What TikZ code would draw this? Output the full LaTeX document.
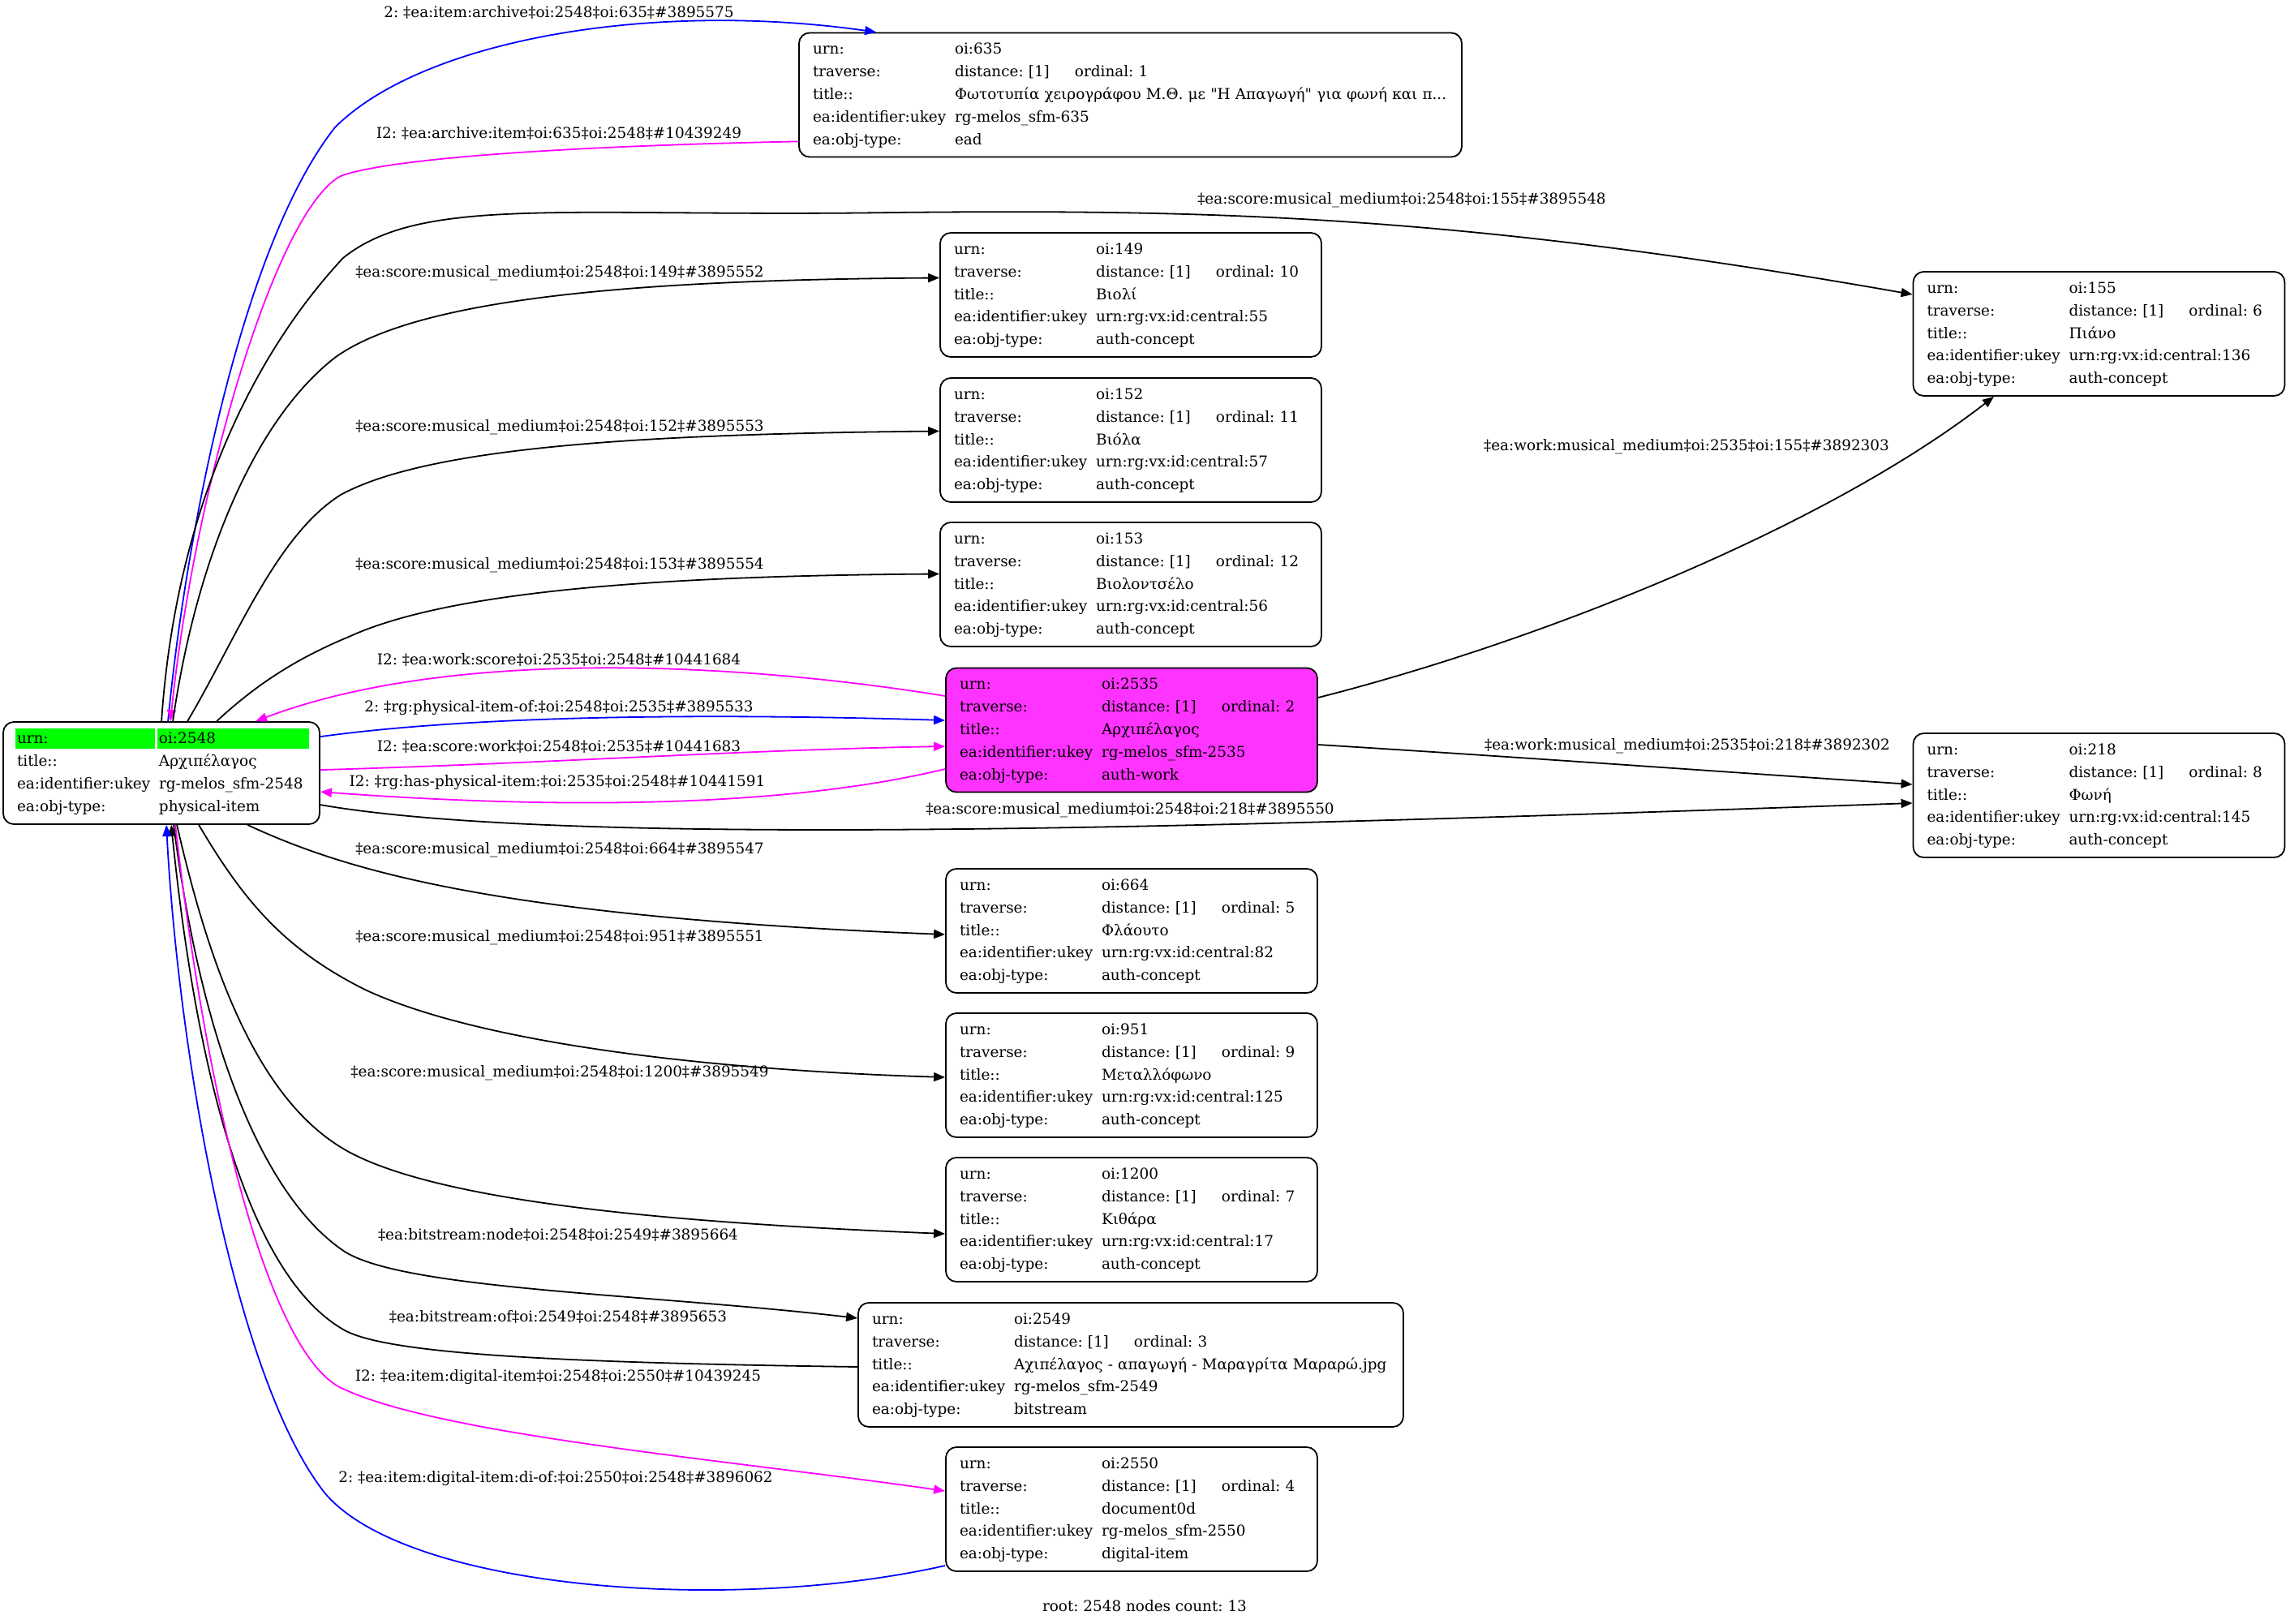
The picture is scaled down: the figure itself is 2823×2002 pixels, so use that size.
\documentclass[tikz,border=0pt]{standalone}
\usepackage{fontspec}
\setmainfont{DejaVu Serif}
\usepackage{xcolor}
\usepackage{tikz}
\usetikzlibrary{arrows.meta,calc}
\frenchspacing

\definecolor{edgeblue}{RGB}{0,0,255}
\definecolor{edgepink}{RGB}{255,0,255}
\definecolor{workfill}{RGB}{255,51,255}
\definecolor{rootgreen}{RGB}{0,255,0}

% one box: urn, ordinal, title, ukey, type
\newcommand{\objrows}[5]{\noindent\begin{tabular}{@{}p{87.5pt}@{}l@{}}
urn: & oi:#1\\
traverse: & \makebox[74pt][l]{distance: [1]}ordinal: #2\\
title:: & #3\\
ea:identifier:ukey & #4\\
ea:obj-type: & #5
\end{tabular}}

\begin{document}
\begin{tikzpicture}[x=0.5pt,y=-0.5pt,
  font=\fontsize{9.2}{13.9}\selectfont,
  obj/.style={draw, rounded corners=6.5pt, line width=0.9pt, inner xsep=8.5pt, inner ysep=0pt, minimum height=76.5pt, align=left},
  lbl/.style={inner sep=0pt},
  link/.style={line width=0.9pt, -{Triangle[length=7pt,width=5.5pt]}}]
\useasboundingbox (0,0) rectangle (2823,2002);

%\draw[step=100,lightgray,thin] (0,0) grid (2823,2002);
% green urn row of the root
\fill[rootgreen] (19,898) rectangle (191,923);
\fill[rootgreen] (194,898) rectangle (381,923);
\node[obj, minimum height=63pt, text width=178pt] (root) at (199,953) {\noindent\begin{tabular}{@{}p{87.5pt}@{}l@{}}
urn: & oi:2548\\
title:: & Αρχιπέλαγος\\
ea:identifier:ukey & rg-melos\_sfm-2548\\
ea:obj-type: & physical-item
\end{tabular}};

\node[obj, text width=391.5pt] (n635) at (1393.5,117) {\objrows{635}{1}{Φωτοτυπία χειρογράφου Μ.Θ. με \textquotedbl Η Απαγωγή\textquotedbl{} για φωνή και π...}{rg-melos\_sfm-635}{ead}};
\node[obj, text width=218pt] (n149) at (1394,363.5) {\objrows{149}{10}{Βιολί}{urn:rg:vx:id:central:55}{auth-concept}};
\node[obj, text width=218pt] (n152) at (1394,542.5) {\objrows{152}{11}{Βιόλα}{urn:rg:vx:id:central:57}{auth-concept}};
\node[obj, text width=218pt] (n153) at (1394,720.5) {\objrows{153}{12}{Βιολοντσέλο}{urn:rg:vx:id:central:56}{auth-concept}};
\node[obj, fill=workfill, text width=212pt] (n2535) at (1395,900) {\objrows{2535}{2}{Αρχιπέλαγος}{rg-melos\_sfm-2535}{auth-work}};
\node[obj, text width=212pt] (n155) at (2587.5,411.5) {\objrows{155}{6}{Πιάνο}{urn:rg:vx:id:central:136}{auth-concept}};
\node[obj, text width=212pt] (n218) at (2587.5,980.5) {\objrows{218}{8}{Φωνή}{urn:rg:vx:id:central:145}{auth-concept}};
\node[obj, text width=212pt] (n664) at (1395,1147.5) {\objrows{664}{5}{Φλάουτο}{urn:rg:vx:id:central:82}{auth-concept}};
\node[obj, text width=212pt] (n951) at (1395,1325.5) {\objrows{951}{9}{Μεταλλόφωνο}{urn:rg:vx:id:central:125}{auth-concept}};
\node[obj, text width=212pt] (n1200) at (1395,1503.5) {\objrows{1200}{7}{Κιθάρα}{urn:rg:vx:id:central:17}{auth-concept}};
\node[obj, text width=319pt] (n2549) at (1394,1682.5) {\objrows{2549}{3}{Αχιπέλαγος - απαγωγή - Μαραγρίτα Μαραρώ.jpg}{rg-melos\_sfm-2549}{bitstream}};
\node[obj, text width=212pt] (n2550) at (1395,1860.5) {\objrows{2550}{4}{document0d}{rg-melos\_sfm-2550}{digital-item}};

% edges over the top of the root
\draw[link, edgeblue] ($(root.north west)+(204,0)$) .. controls (230,650) and (300,300) .. (413,157) .. controls (520,50) and (800,0) .. ($(n635.north west)+(96,0)$);
\draw[link, edgepink] ($(n635.south west)+(0,-20)$) .. controls (700,180) and (480,195) .. (420,217) .. controls (340,260) and (240,600) .. ($(root.north west)+(207,0)$);
\draw[link] ($(root.north west)+(196,0)$) .. controls (215,650) and (300,450) .. (423,318) .. controls (520,240) and (700,268) .. (1100,262) .. controls (1500,258) and (1800,265) .. ($(n155.west)+(0,-48.5)$);
\draw[link] ($(root.north west)+(210,0)$) .. controls (240,700) and (310,520) .. (414,440) .. controls (520,365) and (800,345) .. ($(n149.west)+(0,-21)$);
\draw[link] ($(root.north west)+(228,0)$) .. controls (290,790) and (340,660) .. (420,610) .. controls (530,550) and (800,535) .. ($(n152.west)+(0,-11)$);
\draw[link] ($(root.north west)+(264,0)$) .. controls (320,840) and (370,810) .. (430,785) .. controls (550,730) and (800,710) .. ($(n153.west)+(0,-13)$);
\draw[link, edgepink] ($(n2535.west)+(0,-42)$) .. controls (900,815) and (550,800) .. ($(root.north west)+(312,0)$);

% root <-> work
\draw[link, edgeblue] ($(root.north east)+(0,19)$) .. controls (600,880) and (900,880) .. ($(n2535.west)+(0,-12)$);
\draw[link, edgepink] ($(root.north east)+(0,60)$) .. controls (700,940) and (900,925) .. ($(n2535.west)+(0,20)$);
\draw[link, edgepink] ($(n2535.west)+(0,48)$) .. controls (950,1000) and (650,995) .. ($(root.north east)+(0,87)$);
\draw[link] ($(n2535.east)+(0,-40)$) .. controls (1900,790) and (2250,650) .. ($(n155.south)+(-129.5,0)$);
\draw[link] ($(n2535.east)+(0,18)$) .. controls (1900,935) and (2100,950) .. ($(n218.west)+(0,-13.5)$);
\draw[link] ($(root.north east)+(0,103)$) .. controls (700,1045) and (1500,1020) .. ($(n218.west)+(0,9.5)$);

% edges under the root
\draw[link] ($(root.south west)+(302,0)$) .. controls (420,1070) and (600,1130) .. ($(n664.west)+(0,4.5)$);
\draw[link] ($(root.south west)+(242,0)$) .. controls (300,1110) and (350,1170) .. (450,1220) .. controls (600,1290) and (900,1320) .. ($(n951.west)+(0,2.5)$);
\draw[link] ($(root.south west)+(215,0)$) .. controls (260,1200) and (320,1360) .. (430,1420) .. controls (560,1490) and (900,1510) .. ($(n1200.west)+(0,17.5)$);
\draw[link] ($(root.south west)+(211,0)$) .. controls (250,1300) and (330,1480) .. (425,1543) .. controls (500,1590) and (800,1595) .. ($(n2549.west)+(0,-57.5)$);
\draw[link] ($(n2549.west)+(0,2.5)$) .. controls (700,1680) and (480,1670) .. (425,1640) .. controls (300,1570) and (240,1300) .. ($(root.south west)+(208,0)$);
\draw[link, edgepink] ($(root.south west)+(213,0)$) .. controls (260,1400) and (340,1680) .. (425,1713) .. controls (550,1770) and (900,1800) .. ($(n2550.west)+(0,-22.5)$);
\draw[link, edgeblue] ($(n2550.west)+(0,69.5)$) .. controls (900,1990) and (500,1960) .. (400,1840) .. controls (290,1700) and (220,1300) .. ($(root.south west)+(202,0)$);

% edge labels
\node[lbl] (lArchive) at (689,15) {2: ‡ea:item:archive‡oi:2548‡oi:635‡\#3895575};
\node[lbl] (lArchItem) at (689,164) {I2: ‡ea:archive:item‡oi:635‡oi:2548‡\#10439249};
\node[lbl] (lMed155) at (1728,247) {‡ea:score:musical\_medium‡oi:2548‡oi:155‡\#3895548};
\node[lbl] (lMed149) at (690,337) {‡ea:score:musical\_medium‡oi:2548‡oi:149‡\#3895552};
\node[lbl] (lMed152) at (690,527) {‡ea:score:musical\_medium‡oi:2548‡oi:152‡\#3895553};
\node[lbl] (lMed153) at (690,697) {‡ea:score:musical\_medium‡oi:2548‡oi:153‡\#3895554};
\node[lbl] (lWorkScore) at (689,813) {I2: ‡ea:work:score‡oi:2535‡oi:2548‡\#10441684};
\node[lbl] (lPhysOf) at (689,873) {2: ‡rg:physical-item-of:‡oi:2548‡oi:2535‡\#3895533};
\node[lbl] (lScoreWork) at (689,920) {I2: ‡ea:score:work‡oi:2548‡oi:2535‡\#10441683};
\node[lbl] (lHasPhys) at (687,965) {I2: ‡rg:has-physical-item:‡oi:2535‡oi:2548‡\#10441591};
\node[lbl] (lWork155) at (2079,551) {‡ea:work:musical\_medium‡oi:2535‡oi:155‡\#3892303};
\node[lbl] (lWork218) at (2080,920) {‡ea:work:musical\_medium‡oi:2535‡oi:218‡\#3892302};
\node[lbl] (lMed218) at (1393,999) {‡ea:score:musical\_medium‡oi:2548‡oi:218‡\#3895550};
\node[lbl] (lMed664) at (690,1048) {‡ea:score:musical\_medium‡oi:2548‡oi:664‡\#3895547};
\node[lbl] (lMed951) at (690,1156) {‡ea:score:musical\_medium‡oi:2548‡oi:951‡\#3895551};
\node[lbl] (lMed1200) at (690,1323) {‡ea:score:musical\_medium‡oi:2548‡oi:1200‡\#3895549};
\node[lbl] (lBsNode) at (688,1522) {‡ea:bitstream:node‡oi:2548‡oi:2549‡\#3895664};
\node[lbl] (lBsOf) at (688,1623) {‡ea:bitstream:of‡oi:2549‡oi:2548‡\#3895653};
\node[lbl] (lDigItem) at (688,1698) {I2: ‡ea:item:digital-item‡oi:2548‡oi:2550‡\#10439245};
\node[lbl] (lDiOf) at (685,1823) {2: ‡ea:item:digital-item:di-of:‡oi:2550‡oi:2548‡\#3896062};

\node[lbl] (footer) at (1411,1980) {root: 2548 nodes count: 13};
\end{tikzpicture}
\end{document}
